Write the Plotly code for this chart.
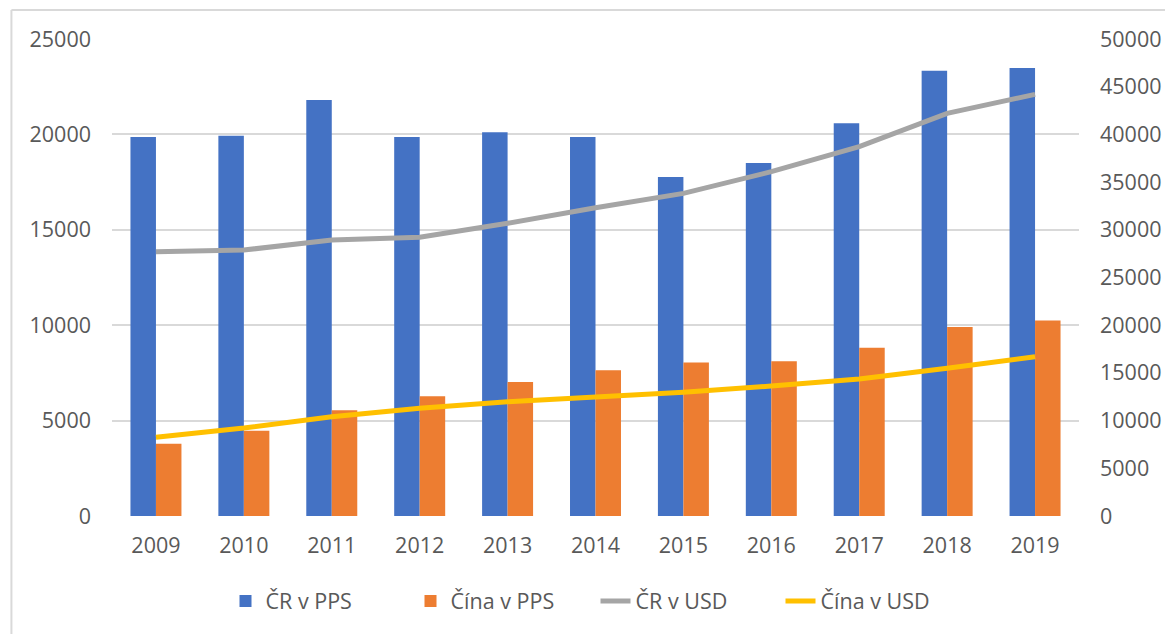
import plotly.graph_objects as go

years = ["2009", "2010", "2011", "2012", "2013", "2014", "2015", "2016", "2017", "2018", "2019"]
cr_pps = [19870, 19930, 21800, 19870, 20110, 19870, 17770, 18500, 20580, 23340, 23480]
cina_pps = [3790, 4470, 5540, 6270, 7020, 7640, 8040, 8110, 8820, 9900, 10240]
cr_usd = [27700, 27880, 28930, 29210, 30680, 32320, 33820, 36090, 38710, 42210, 44200]
cina_usd = [8250, 9220, 10410, 11290, 11980, 12510, 12960, 13630, 14360, 15480, 16700]

FONT = "Open Sans"
TXT = "#595959"
GRID = "#D9D9D9"
FS = 21.5

fig = go.Figure()
fig.add_trace(go.Bar(x=years, y=cr_pps, name="ČR v PPS", marker=dict(color="#4472C4", line=dict(width=0))))
fig.add_trace(go.Bar(x=years, y=cina_pps, name="Čína v PPS", marker=dict(color="#ED7D31", line=dict(width=0))))
fig.add_trace(go.Scatter(x=years, y=cr_usd, name="ČR v USD", mode="lines", yaxis="y2",
                         line=dict(color="#A5A5A5", width=5)))
fig.add_trace(go.Scatter(x=years, y=cina_usd, name="Čína v USD", mode="lines", yaxis="y2",
                         line=dict(color="#FFC000", width=5)))

fig.update_layout(
    width=1165, height=626,
    margin=dict(l=104, r=90, t=31, b=118, pad=0),
    paper_bgcolor="white", plot_bgcolor="white",
    font=dict(family=FONT, size=FS, color=TXT),
    barmode="group", bargap=0.42, bargroupgap=0,
    showlegend=True,
    legend=dict(orientation="h", x=0.5, xanchor="center", y=-0.178, yanchor="middle",
                font=dict(family=FONT, size=FS, color=TXT), traceorder="normal",
                entrywidth=140, entrywidthmode="pixels"),
    xaxis=dict(showgrid=False, showline=False, ticks="", tickfont=dict(size=FS, color=TXT),
               ticklabelstandoff=14),
    yaxis=dict(range=[0, 25000], dtick=5000, tickformat="d", showgrid=True, gridcolor=GRID,
               gridwidth=2, zeroline=False, showline=False, ticks="",
               tickfont=dict(size=FS, color=TXT), ticklabelstandoff=20),
    yaxis2=dict(range=[0, 50000], dtick=5000, tickformat="d", overlaying="y", side="right",
                showgrid=False, zeroline=False, showline=False, ticks="",
                tickfont=dict(size=FS, color=TXT), ticklabelstandoff=20),
    hovermode=False,
)

# chart frame (top and left edges visible in the reference)
fig.add_shape(type="line", xref="paper", yref="paper", x0=-0.104, x1=1.2, y0=1.0608, y1=1.0608,
              line=dict(color=GRID, width=2))
fig.add_shape(type="line", xref="paper", yref="paper", x0=-0.104, x1=-0.104, y0=-0.3, y1=1.0608,
              line=dict(color=GRID, width=2))

fig.write_html("out.html")
